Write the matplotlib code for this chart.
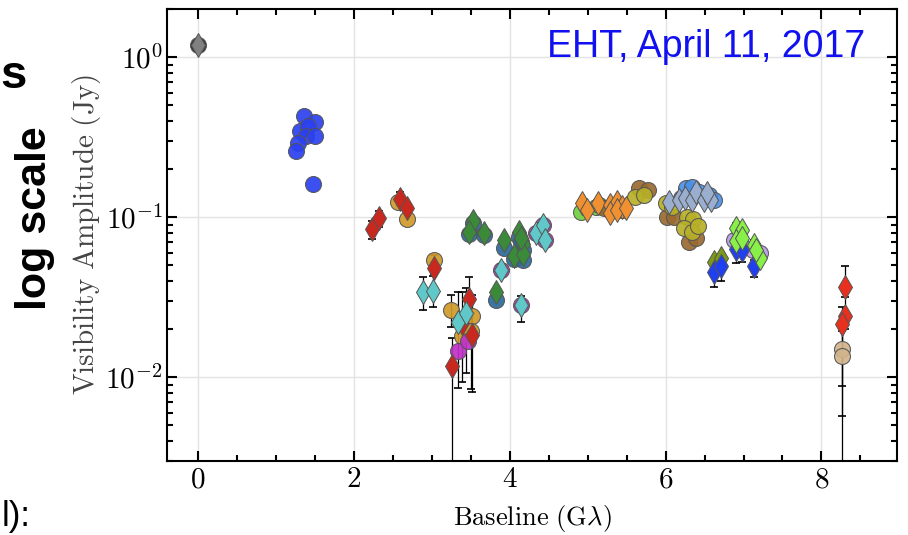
import numpy as np
import matplotlib.pyplot as plt
from matplotlib.ticker import FuncFormatter, LogLocator, MultipleLocator, NullFormatter

plt.rcParams['mathtext.fontset'] = 'cm'

# baseline (G lambda) / visibility amplitude (Jy)
gray_x = [0.0]
gray_y = [1.2]

blue_c_x = [1.357, 1.50, 1.306, 1.408, 1.383, 1.498, 1.28, 1.255, 1.472]
blue_c_y = [0.429, 0.394, 0.346, 0.372, 0.322, 0.322, 0.291, 0.260, 0.162]

gold_x = [2.57, 2.68, 3.03, 3.24, 3.39, 3.52, 3.50]
gold_y = [0.125, 0.098, 0.0543, 0.0265, 0.018, 0.0243, 0.0194]
gold_lo = [0, 0, 0.004, 0.006, 0, 0, 0.011]
gold_hi = [0, 0, 0.004, 0.006, 0, 0, 0.006]

mag_x = [3.34, 3.46, 3.89, 4.15, 4.34, 4.43, 4.45]
mag_y = [0.0145, 0.0168, 0.047, 0.0281, 0.080, 0.0898, 0.0724]

dblue_x = [3.53, 3.47, 3.67, 3.93, 4.12, 4.17, 4.05, 4.17, 3.82, 4.14]
dblue_y = [0.092, 0.079, 0.078, 0.064, 0.075, 0.062, 0.055, 0.054, 0.0306, 0.070]

lgreen_x = [4.92, 5.11, 5.15, 5.28, 5.44, 5.38]
lgreen_y = [0.108, 0.116, 0.120, 0.111, 0.111, 0.113]

brown_x = [5.21, 5.66, 5.77, 6.02, 6.11, 6.30, 6.39]
brown_y = [0.114, 0.153, 0.149, 0.1007, 0.1007, 0.0704, 0.0737]

olive_x = [5.61, 5.72, 6.00, 6.08, 6.27, 6.35, 6.24, 6.34, 6.41]
olive_y = [0.134, 0.138, 0.123, 0.116, 0.100, 0.098, 0.086, 0.081, 0.088]

sky_x = [6.20, 6.26, 6.34, 6.43, 6.56, 6.62]
sky_y = [0.131, 0.153, 0.155, 0.144, 0.138, 0.129]

lav_x = [6.88, 6.97, 7.12, 7.21]
lav_y = [0.072, 0.068, 0.062, 0.060]

tan_x = [8.27, 8.26]
tan_y = [0.0151, 0.0135]
tan_lo = [0.0094, 0.0132]
tan_hi = [0.006, 0.006]

red_x = [2.23, 2.32, 2.59, 2.68, 3.03, 3.26, 3.39, 3.48, 3.52]
red_y = [0.0848, 0.099, 0.130, 0.115, 0.0485, 0.0117, 0.0217, 0.031, 0.0185]
red_lo = [0.0113, 0.012, 0.013, 0.006, 0.004, 0.0115, 0.0123, 0.008, 0.0104]
red_hi = [0.0102, 0.011, 0.013, 0.006, 0.004, 0.006, 0.0122, 0.0116, 0.0143]

cyan_x = [2.89, 3.02, 3.34, 3.44, 3.89, 4.15, 4.34, 4.43, 4.45]
cyan_y = [0.0339, 0.0348, 0.022, 0.0254, 0.047, 0.0281, 0.080, 0.0898, 0.0724]
cyan_lo = [0.0074, 0.0074, 0.0134, 0.0147, 0.004, 0.006, 0, 0, 0]
cyan_hi = [0.0082, 0.0082, 0.0119, 0.0105, 0.004, 0.0043, 0, 0, 0]

green_x = [3.53, 3.47, 3.67, 3.93, 4.12, 4.17, 4.05, 4.17, 3.82, 4.15]
green_y = [0.095, 0.081, 0.080, 0.0725, 0.081, 0.068, 0.0574, 0.059, 0.034, 0.074]

orange_x = [4.93, 4.99, 5.13, 5.28, 5.38, 5.44, 5.28, 5.38, 5.49]
orange_y = [0.123, 0.111, 0.123, 0.120, 0.125, 0.116, 0.107, 0.111, 0.114]

steel_x = [6.04, 6.17, 6.25, 6.34, 6.39, 6.49, 6.58, 6.53]
steel_y = [0.125, 0.129, 0.131, 0.129, 0.144, 0.129, 0.129, 0.142]

ogreen_x = [6.62, 6.71]
ogreen_y = [0.0528, 0.0558]

bdia_x = [6.62, 6.71, 6.90, 6.98, 7.14]
bdia_y = [0.0458, 0.0499, 0.0637, 0.0627, 0.0499]
bdia_lo = [0.009, 0.010, 0.012, 0.010, 0.0074]
bdia_hi = [0.005, 0.005, 0.005, 0.005, 0.004]

lime_x = [6.90, 6.98, 6.90, 6.98, 7.14, 7.21, 7.16]
lime_y = [0.086, 0.083, 0.0714, 0.0737, 0.0675, 0.0558, 0.062]
lime_lo = [0, 0, 0, 0, 0, 0, 0]
lime_hi = [0.0065, 0.006, 0, 0, 0.005, 0, 0]

bred_x = [8.30, 8.30, 8.26]
bred_y = [0.0369, 0.024, 0.0214]
bred_lo = [0.005, 0.004, 0.0126]
bred_hi = [0.013, 0.010, 0.006]

fig = plt.figure(figsize=(9.08, 5.35), dpi=100)
ax = fig.add_axes([167/908, 1-461/535, 730/908, 452/535])

def errs(x, y, lo, hi):
    x, y, lo, hi = map(np.asarray, (x, y, lo, hi))
    m = (lo > 0) | (hi > 0)
    ax.errorbar(x[m], y[m], yerr=[lo[m], hi[m]], fmt='none', ecolor='black',
                elinewidth=0.9, capsize=3, capthick=1.2, zorder=1)

errs(gold_x, gold_y, gold_lo, gold_hi)
errs(tan_x, tan_y, tan_lo, tan_hi)
errs(red_x, red_y, red_lo, red_hi)
errs(cyan_x, cyan_y, cyan_lo, cyan_hi)
errs(bdia_x, bdia_y, bdia_lo, bdia_hi)
errs(lime_x, lime_y, lime_lo, lime_hi)
errs(bred_x, bred_y, bred_lo, bred_hi)

# circles first, diamonds on top
circles = [
    (gray_x, gray_y, '#222222'),
    (blue_c_x, blue_c_y, '#2b40f0'),
    (gold_x, gold_y, '#d09a2a'),
    (mag_x, mag_y, '#c030c8'),
    (dblue_x, dblue_y, '#2a6a9a'),
    (lgreen_x, lgreen_y, '#70d040'),
    (brown_x, brown_y, '#9a6a30'),
    (olive_x, olive_y, '#b8b028'),
    (sky_x, sky_y, '#4a90e8'),
    (lav_x, lav_y, '#b89ae8'),
    (tan_x, tan_y, '#d2b48c'),
]
for x, y, c in circles:
    ax.plot(x, y, 'o', ms=11.5, mfc=c, mec='#555555', mew=0.8, alpha=0.92, zorder=3)

diamonds = [
    (gray_x, gray_y, '#808080'),
    (red_x, red_y, '#c8281e'),
    (cyan_x, cyan_y, '#60c8c8'),
    (green_x, green_y, '#3a8a3a'),
    (orange_x, orange_y, '#f09030'),
    (steel_x, steel_y, '#9aaed0'),
    (ogreen_x, ogreen_y, '#7a9a1a'),
    (bdia_x, bdia_y, '#2040f0'),
    (lime_x, lime_y, '#88f048'),
    (bred_x, bred_y, '#e8301e'),
]
for x, y, c in diamonds:
    ax.plot(x, y, 'd', ms=12, mfc=c, mec='#555555', mew=0.7, zorder=4)

ax.set_yscale('log')
ax.set_xlim(-0.4, 8.97)
ax.set_ylim(0.003, 2.0)

ax.xaxis.set_major_locator(MultipleLocator(2))
ax.xaxis.set_minor_locator(MultipleLocator(0.5))
ax.xaxis.set_major_formatter(FuncFormatter(lambda v, p: r'$%d$' % round(v)))
ax.yaxis.set_major_locator(LogLocator(base=10))
ax.yaxis.set_minor_locator(LogLocator(base=10, subs=np.arange(2, 10)))
ax.yaxis.set_major_formatter(FuncFormatter(lambda v, p: r'$10^{%d}$' % round(np.log10(v))))
ax.yaxis.set_minor_formatter(NullFormatter())

ax.tick_params(which='both', direction='in', top=True, right=True, labelsize=21, width=1.5)
ax.tick_params(which='major', length=7, pad=3)
ax.tick_params(which='minor', length=4)
for s in ax.spines.values():
    s.set_linewidth(1.5)
ax.grid(which='major', color='#e3e3e3', lw=1)
ax.set_axisbelow(True)

ax.set_xlabel(r'$\mathrm{Baseline\ (G\lambda)}$', fontsize=19, labelpad=7)
ax.set_ylabel(r'$\mathrm{Visibility\ Amplitude\ (Jy)}$', fontsize=21, color='#444444', labelpad=2)

ax.text(0.957, 0.915, 'EHT, April 11, 2017', transform=ax.transAxes, ha='right', va='center',
        color='#1010f0', fontsize=27, family='Liberation Sans')

# bits of the slide around the plot
fig.text(0.0, 1-88/535, 's', ha='left', va='baseline', fontsize=34, fontweight='bold',
         family='Liberation Sans')
fig.text(35/908, 1-218/535, 'log scale', rotation=90, ha='center', va='center', fontsize=31,
         fontweight='bold', family='Liberation Sans')
fig.text(0.002, 0.004, 'l):', ha='left', va='bottom', fontsize=25, family='Liberation Sans')

fig.savefig('out.png', dpi=100)
